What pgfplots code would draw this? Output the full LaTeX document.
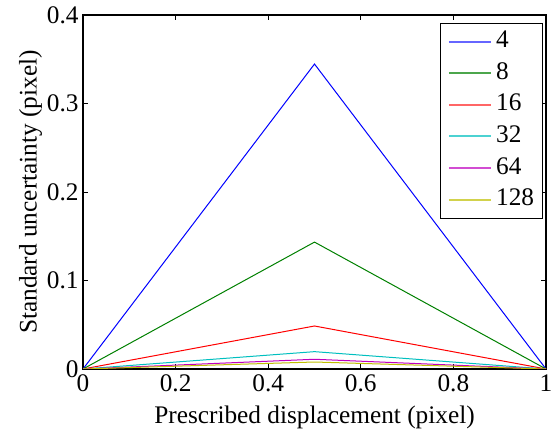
\documentclass[border=0pt]{standalone}
\usepackage{fontspec}
\setmainfont{Liberation Serif}
\usepackage{pgfplots}
\pgfplotsset{compat=1.18}
\definecolor{mblue}{rgb}{0,0,1}
\definecolor{mgreen}{rgb}{0,0.5,0}
\definecolor{mred}{rgb}{1,0,0}
\definecolor{mcyan}{rgb}{0,0.75,0.75}
\definecolor{mmag}{rgb}{0.75,0,0.75}
\definecolor{myel}{rgb}{0.75,0.75,0}
\begin{document}
\fontsize{12.7}{15}\selectfont
\begin{tikzpicture}
\useasboundingbox (-41.5bp,-30.5bp) rectangle (236bp,184.5bp);
\begin{axis}[
  at={(0,0)}, anchor=south west,
  scale only axis, width=231.5bp, height=177bp,
  xmin=0, xmax=1, ymin=0, ymax=0.4,
  xtick={0,0.2,0.4,0.6,0.8,1}, ytick={0,0.1,0.2,0.3,0.4},
  /pgf/number format/assume math mode=true,
  /pgf/number format/fixed,
  tick align=inside, major tick length=2.5bp,
  axis line style={line width=0.6bp},
  every tick/.style={black, line width=0.5bp},
  tick label style={font=\fontsize{12.7}{15}\selectfont},
  label style={font=\fontsize{12.7}{15}\selectfont},
  xticklabel style={inner sep=1bp, yshift=-1.5bp},
  yticklabel style={inner sep=2bp},
  xlabel={Prescribed displacement (pixel)},
  ylabel={Standard uncertainty (pixel)},
  xlabel style={yshift=-2bp},
  ylabel style={yshift=-4bp},
  legend cell align=left,
  legend style={at={(axis description cs:0.9924,0.978)}, anchor=north east,
    draw=black, inner xsep=4bp, inner ysep=1.3bp,
    font=\fontsize{12.7}{15}\selectfont,
    nodes={inner sep=0pt, text height=11bp, text depth=4.8bp},
    column sep=0pt},
  every axis plot/.append style={line width=0.5bp},
]
\addplot[mblue, legend image code/.code={\draw[mblue!60, line width=1bp] (0bp,0bp) -- (21bp,0bp);}] coordinates {(0,0) (0.5,0.3446) (1,0)};
\addlegendentry{\,4}
\addplot[mgreen, legend image code/.code={\draw[mgreen!70, line width=1bp] (0bp,0bp) -- (21bp,0bp);}] coordinates {(0,0) (0.5,0.1434) (1,0)};
\addlegendentry{\,8}
\addplot[mred, legend image code/.code={\draw[mred!60, line width=1bp] (0bp,0bp) -- (21bp,0bp);}] coordinates {(0,0) (0.5,0.0486) (1,0)};
\addlegendentry{\,16}
\addplot[mcyan, legend image code/.code={\draw[mcyan!70, line width=1bp] (0bp,0bp) -- (21bp,0bp);}] coordinates {(0,0) (0.5,0.0196) (1,0)};
\addlegendentry{\,32}
\addplot[mmag, legend image code/.code={\draw[mmag!70, line width=1bp] (0bp,0bp) -- (21bp,0bp);}] coordinates {(0,0) (0.5,0.0110) (1,0)};
\addlegendentry{\,64}
\addplot[myel, legend image code/.code={\draw[myel!70, line width=1bp] (0bp,0bp) -- (21bp,0bp);}] coordinates {(0,0) (0.5,0.0079) (1,0)};
\addlegendentry{\,128}
\end{axis}
\end{tikzpicture}
\end{document}
